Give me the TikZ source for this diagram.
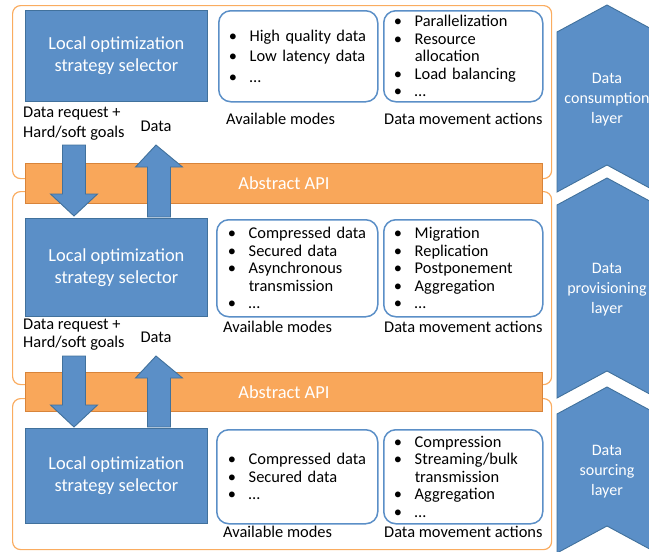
\documentclass[tikz,border=0pt]{standalone}
\usepackage{fontspec}
\setmainfont{Carlito}
\usetikzlibrary{calc}

\definecolor{selblue}{RGB}{91,143,199}
\definecolor{seledge}{RGB}{65,113,156}
\definecolor{apiorange}{RGB}{249,167,90}
\definecolor{apiedge}{RGB}{216,132,58}
\definecolor{layerline}{RGB}{250,172,96}

% bullet item and its continuation line
\newcommand{\itm}[1]{\makebox[21pt][l]{\textbullet}#1}
\newcommand{\itmcont}[1]{\hspace*{21pt}#1}

\tikzset{
  layerbox/.style={draw=layerline, line width=1.2pt, rounded corners=8pt, anchor=north west, inner sep=0pt, minimum width=539pt},
  selector/.style={draw=seledge, fill=selblue, line width=0.9pt, text=white, anchor=north west,
    minimum width=182pt, align=center, font=\fontsize{18.4}{22}\selectfont},
  apibar/.style={draw=apiedge, fill=apiorange, line width=0.9pt, text=white, anchor=north west,
    minimum width=517pt, font=\fontsize{18.4}{22}\selectfont},
  modebox/.style={draw=selblue, line width=1.5pt, rounded corners=12pt, anchor=north west, inner sep=0pt,
    text width=139pt, align=left, font=\fontsize{16.4}{17.5}\selectfont},
  caption/.style={inner sep=0pt, font=\fontsize{16.4}{20}\selectfont},
  tier/.style={draw=seledge, fill=selblue, line width=0.9pt, line join=miter},
  tiertext/.style={text=white, align=center, inner sep=0pt, font=\fontsize{16}{20}\selectfont},
  flow/.style={draw=seledge, fill=selblue, line width=0.9pt, line join=miter,
    to path={let \p1=(\tikztostart), \p2=(\tikztotarget), \n1={(\y2>\y1)*44-22} in
      (\x1-11.5pt,\y1) -- (\x1+11.5pt,\y1) -- (\x1+11.5pt,{\y2-(\n1)*1pt})
      -- (\x1+23.5pt,{\y2-(\n1)*1pt}) -- (\x2,\y2) -- (\x1-23.5pt,{\y2-(\n1)*1pt})
      -- (\x1-11.5pt,{\y2-(\n1)*1pt}) -- cycle}}
}

\begin{document}
\begin{tikzpicture}[x=1pt,y=-1pt]
  \useasboundingbox (0,0) rectangle (649,552);

  % layer frames
  \node[layerbox, minimum height=173pt] (layer1) at (12,5) {};
  \node[layerbox, minimum height=193pt] (layer2) at (12,191) {};
  \node[layerbox, minimum height=151pt] (layer3) at (12,398) {};

  % consumption layer
  \node[selector, minimum height=91pt] (sel1) at (25,10) {Local optimization\\strategy selector};
  \node[modebox, minimum width=159pt, minimum height=91pt, font=\fontsize{16.4}{20.5}\selectfont] (modes1) at (218,10)
    {\itm{High quality data}\\\itm{Low latency data}\\\itm{…}};
  \node[modebox, minimum width=159pt, minimum height=91pt] (acts1) at (383,10)
    {\itm{Parallelization}\\\itm{Resource}\\\itmcont{allocation}\\\itm{Load balancing}\\\itm{…}};
  \node[caption, anchor=base west] (modes1cap) at ($(modes1.south west)+(8,21.5)$) {Available modes};
  \node[caption, anchor=base west] (acts1cap) at ($(acts1.south west)+(1,21.5)$) {Data movement actions};
  \node[caption, anchor=base west] (req1) at (23,117) {Data request +};
  \node[caption, anchor=base west] (goals1) at (23,137) {Hard/soft goals};
  \node[caption, anchor=base] (data1) at (156,131) {Data};

  % provisioning layer
  \node[selector, minimum height=98pt] (sel2) at (25,218) {Local optimization\\strategy selector};
  \node[modebox, minimum width=161pt, minimum height=97pt] (modes2) at (216,219)
    {\itm{Compressed data}\\\itm{Secured data}\\\itm{Asynchronous}\\\itmcont{transmission}\\\itm{…}};
  \node[modebox, minimum width=159pt, minimum height=97pt] (acts2) at (383,219)
    {\itm{Migration}\\\itm{Replication}\\\itm{Postponement}\\\itm{Aggregation}\\\itm{…}};
  \node[caption, anchor=base west] (modes2cap) at ($(modes2.south west)+(7,14.5)$) {Available modes};
  \node[caption, anchor=base west] (acts2cap) at ($(acts2.south west)+(1,14.5)$) {Data movement actions};
  \node[caption, anchor=base west] (req2) at (23,329.5) {Data request +};
  \node[caption, anchor=base west] (goals2) at (23,347) {Hard/soft goals};
  \node[caption, anchor=base] (data2) at (156,342) {Data};

  % sourcing layer
  \node[selector, minimum height=95pt] (sel3) at (25,428) {Local optimization\\strategy selector};
  \node[modebox, minimum width=161pt, minimum height=94pt] (modes3) at (216,429)
    {\itm{Compressed data}\\\itm{Secured data}\\\itm{…}};
  \node[modebox, minimum width=159pt, minimum height=94pt] (acts3) at (383,429)
    {\itm{Compression}\\\itm{Streaming/bulk}\\\itmcont{transmission}\\\itm{Aggregation}\\\itm{…}};
  \node[caption, anchor=base west] (modes3cap) at ($(modes3.south west)+(7,13)$) {Available modes};
  \node[caption, anchor=base west] (acts3cap) at ($(acts3.south west)+(1,13)$) {Data movement actions};

  % abstract API bars
  \node[apibar, minimum height=40pt] (api1) at (25,163) {Abstract API};
  \node[apibar, minimum height=39pt] (api2) at (25,372) {Abstract API};

  % requests down, data up
  \coordinate (reqend1) at ($(goals1.south west)+(51,5)$);
  \coordinate (dataend1) at ($(sel2.north west)+(134,-1)$);
  \coordinate (reqend2) at ($(goals2.south west)+(51,6)$);
  \coordinate (dataend2) at ($(sel3.north west)+(134,-1)$);
  \draw[flow] (reqend1) to ($(sel2.north west)+(49,-2)$);
  \draw[flow] (dataend1) to (data1.south |- reqend1);
  \draw[flow] (reqend2) to ($(sel3.north west)+(49,-1)$);
  \draw[flow] (dataend2) to (data2.south |- reqend2);

  % layer chevrons
  \foreach \a/\b/\tname/\ttext in {5/192/tier1/{Data\\consumption\\layer},
      178/398/tier2/{Data\\provisioning\\layer}, 387/553/tier3/{Data\\sourcing\\layer}}
  {
    \draw[tier] (607,\a) -- (657,\a+27) -- (657,\b) -- (607,\b-27) -- (557,\b) -- (557,\a+27) -- cycle;
    \node[tiertext] (\tname) at (607,{(\a+\b)/2+1.5}) {\ttext};
  }
\end{tikzpicture}
\end{document}
